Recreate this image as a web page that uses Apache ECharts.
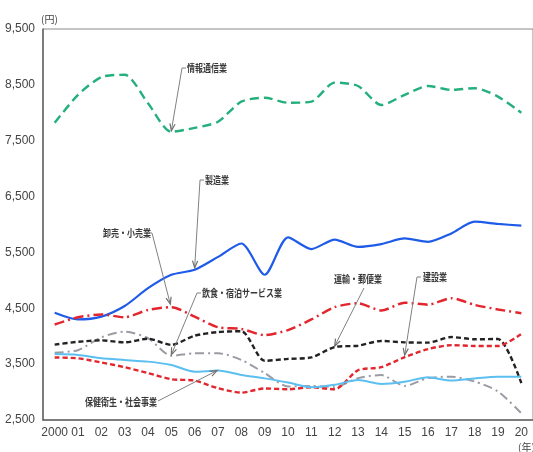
<!DOCTYPE html>
<html><head><meta charset="utf-8">
<script src="https://cdn.jsdelivr.net/npm/echarts@6/dist/echarts.min.js"></script>
<style>html,body{margin:0;padding:0;background:#fff}#c{width:533px;height:452px}</style>
</head><body><div id="c"></div>
<script>
const years = ['2000','01','02','03','04','05','06','07','08','09','10','11','12','13','14','15','16','17','18','19','20'];
const ict = [7820, 8320, 8640, 8680, 8170, 7660, 7730, 7840, 8200, 8270, 8180, 8200, 8540, 8480, 8140, 8320, 8480, 8410, 8440, 8290, 8000];
const manufacturing = [4420, 4300, 4350, 4540, 4860, 5100, 5190, 5420, 5660, 5100, 5770, 5560, 5730, 5600, 5650, 5750, 5690, 5840, 6050, 6010, 5980];
const wholesaleRetail = [4210, 4340, 4390, 4340, 4470, 4520, 4350, 4160, 4130, 4020, 4110, 4300, 4520, 4590, 4460, 4600, 4565, 4680, 4560, 4480, 4410];
const transportPostal = [3850, 3900, 3925, 3890, 3955, 3845, 4010, 4075, 4090, 3560, 3595, 3620, 3805, 3830, 3915, 3890, 3885, 3985, 3945, 3950, 3160];
const construction = [3620, 3605, 3530, 3445, 3340, 3230, 3205, 3070, 2990, 3065, 3050, 3085, 3050, 3390, 3445, 3625, 3770, 3840, 3826, 3826, 4040];
const foodLodging = [3705, 3750, 3980, 4080, 3965, 3650, 3695, 3695, 3575, 3340, 3100, 3110, 3090, 3250, 3305, 3110, 3250, 3275, 3190, 3010, 2620];
const healthWelfare = [3680, 3665, 3605, 3575, 3545, 3485, 3365, 3385, 3305, 3245, 3170, 3085, 3130, 3215, 3145, 3185, 3265, 3205, 3245, 3275, 3275];
const yTicks = [2500, 3500, 4500, 5500, 6500, 7500, 8500, 9500];

const AX_FONT = '"Liberation Sans Narrow","Liberation Sans",Arial,sans-serif';
const JP_FONT = '"Noto Sans CJK JP",sans-serif';

const chart = echarts.init(document.getElementById('c'));

function line(name, data, color, width, dash) {
  return {
    name, type: 'line', data, smooth: 0.25, symbol: 'none',
    lineStyle: { color, width, type: dash || 'solid', cap: 'butt' },
    emphasis: { disabled: true }
  };
}

chart.setOption({
  animation: false,
  grid: { left: 43, top: 29, width: 492, height: 391, show: true, borderColor: '#8a8a8a', borderWidth: 1 },
  xAxis: {
    type: 'category', data: years, boundaryGap: true,
    axisLine: { lineStyle: { color: '#666', width: 1.5 } },
    axisTick: { show: false },
    axisLabel: { interval: 0, margin: 7, fontSize: 12, color: '#444', fontFamily: AX_FONT }
  },
  yAxis: {
    type: 'value', min: yTicks[0], max: yTicks[yTicks.length - 1], interval: 1000,
    axisLine: { show: true, lineStyle: { color: '#666', width: 1.5 } },
    axisTick: { show: false },
    splitLine: { show: false },
    axisLabel: { margin: 8, fontSize: 12, color: '#444', fontFamily: AX_FONT,
      formatter: v => v.toLocaleString('en-US') }
  },
  series: [
    line('情報通信業', ict, '#23b07c', 2.4, [9, 5]),
    line('製造業', manufacturing, '#1e5be8', 2.2),
    line('卸売・小売業', wholesaleRetail, '#e3262d', 2.5, [10, 4, 2, 4]),
    line('飲食・宿泊サービス業', foodLodging, '#9a9ca4', 2, [9, 4, 2, 4]),
    line('運輸・郵便業', transportPostal, '#222222', 2.4, [5, 3]),
    line('建設業', construction, '#e3262d', 2.4, [5, 3]),
    line('保健衛生・社会事業', healthWelfare, '#5bbff0', 2)
  ]
});

// annotation labels with leader arrows (layout in pixels, tips anchored to data points)
const notes = [
  { text: '情報通信業', tx: 187, ty: 68, path: [[186, 68], [182, 68]], data: ict, idx: 5, off: [0, -1] },
  { text: '製造業', tx: 205, ty: 180, path: [[204, 180], [200, 180]], data: manufacturing, idx: 6, off: [0, -2] },
  { text: '卸売・小売業', tx: 103, ty: 233, path: [[149, 233], [152, 233]], data: wholesaleRetail, idx: 5, off: [-1, -3] },
  { text: '飲食・宿泊サービス業', tx: 202, ty: 293, path: [[201, 293], [197, 293]], data: foodLodging, idx: 5, off: [0, -1] },
  { text: '運輸・郵便業', tx: 334, ty: 279, path: [[364, 288]], data: transportPostal, idx: 12, off: [0, -1] },
  { text: '建設業', tx: 423, ty: 277, path: [[421, 277], [417, 277]], data: construction, idx: 15, off: [0, -2] },
  { text: '保健衛生・社会事業', tx: 85, ty: 402, path: [[158, 401]], data: healthWelfare, idx: 7, off: [-1, 0] }
];

const graphics = [];
notes.forEach(n => {
  const p = chart.convertToPixel({ gridIndex: 0 }, [n.idx, n.data[n.idx]]);
  const tip = [p[0] + n.off[0], p[1] + n.off[1]];
  const pts = n.path.concat([tip]);
  const prev = pts[pts.length - 2];
  const dx = tip[0] - prev[0], dy = tip[1] - prev[1];
  const L = Math.hypot(dx, dy);
  const ux = dx / L, uy = dy / L, nx = -uy, ny = ux;
  const hl = 7, hw = 2.6;
  graphics.push({ type: 'polyline', shape: { points: pts }, style: { stroke: '#808080', lineWidth: 1, fill: null }, z: 100 });
  graphics.push({ type: 'polyline', shape: { points: [
    [tip[0] - hl * ux + hw * nx, tip[1] - hl * uy + hw * ny], tip,
    [tip[0] - hl * ux - hw * nx, tip[1] - hl * uy - hw * ny]] },
    style: { stroke: '#707070', lineWidth: 1.2, fill: null }, z: 100 });
  graphics.push({ type: 'text', x: n.tx, y: n.ty, scaleX: 0.8, z: 101,
    style: { text: n.text, x: 0, y: 0, fill: '#383838', font: 'bold 10px ' + JP_FONT, verticalAlign: 'middle', align: 'left' } });
});
graphics.push({ type: 'text', x: 41, y: 19, z: 101,
  style: { text: '(円)', fill: '#444', font: '10px ' + JP_FONT, verticalAlign: 'middle' } });
graphics.push({ type: 'text', x: 518, y: 447, z: 101,
  style: { text: '(年)', fill: '#444', font: '10px ' + JP_FONT, verticalAlign: 'middle' } });
chart.setOption({ graphic: graphics });
</script>
</body></html>
